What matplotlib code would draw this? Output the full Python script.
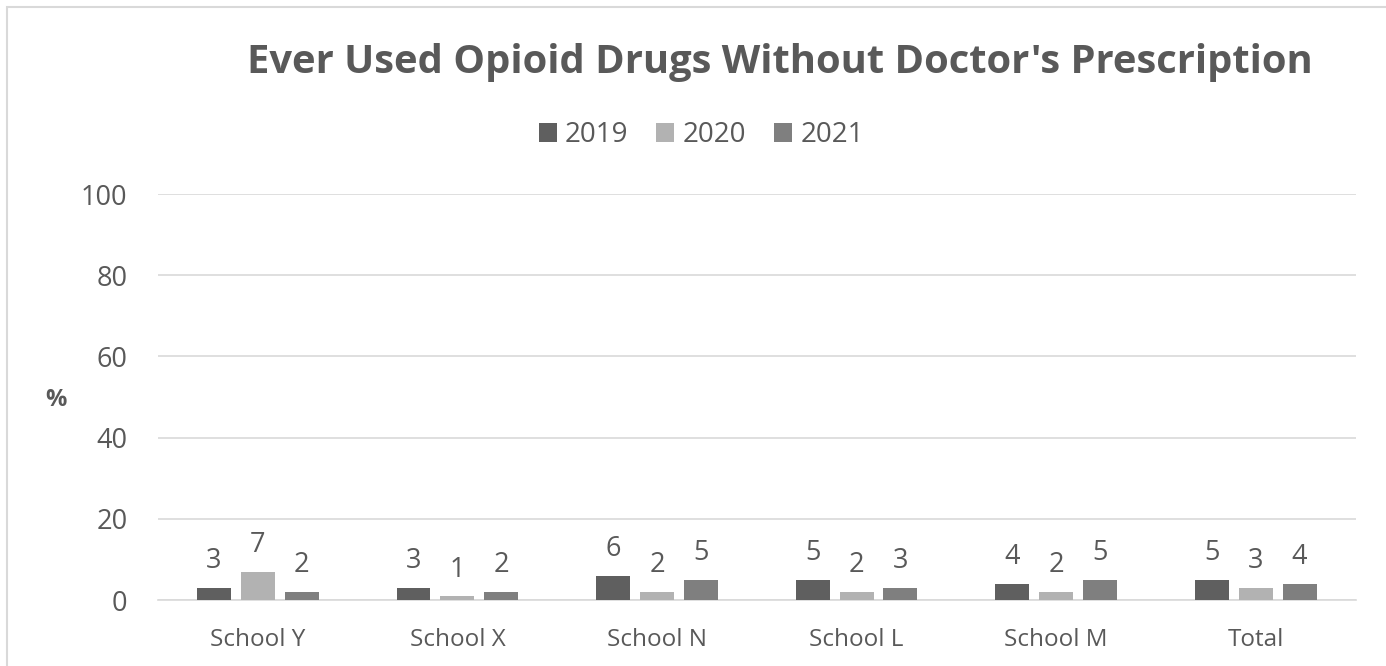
import matplotlib

matplotlib.use("Agg")
import matplotlib.pyplot as plt
import numpy as np

schools = ["School Y", "School X", "School N", "School L", "School M", "Total"]
years = ["2019", "2020", "2021"]
pct_2019 = [3, 3, 6, 5, 4, 5]
pct_2020 = [7, 1, 2, 2, 2, 3]
pct_2021 = [2, 2, 5, 3, 5, 4]
y_ticks = [0, 20, 40, 60, 80, 100]

series = [pct_2019, pct_2020, pct_2021]
colours = ["#5f5f5f", "#b2b2b2", "#7f7f7f"]
text_grey = "#595959"
font = "Open Sans"

fig = plt.figure(figsize=(13.86, 6.66), dpi=100)
fig.patch.set_facecolor("white")
# chart frame
fig.add_artist(plt.Rectangle((0.005, -0.01), 1.2, 1.0, transform=fig.transFigure,
                             fill=False, edgecolor="#d9d9d9", linewidth=1.5))

ax = fig.add_axes([0.114, 0.099, 0.864, 0.6096])
x = np.arange(len(schools))
width = 0.17
step = 0.22
for i, (values, colour, year) in enumerate(zip(series, colours, years)):
    pos = x + (i - 1) * step
    bars = ax.bar(pos, values, width, color=colour, label=year, zorder=3)
    for bar, v in zip(bars, values):
        ax.annotate(f"{v}", (bar.get_x() + bar.get_width() / 2, v),
                    xytext=(0, 9), textcoords="offset points",
                    ha="center", va="bottom", fontsize=19.5, color=text_grey,
                    family=font)

ax.set_xlim(-0.5, len(schools) - 0.5)
ax.set_ylim(0, 100)
ax.set_yticks(y_ticks)
ax.set_yticklabels([str(t) for t in y_ticks], fontsize=19.5, color=text_grey, family=font)
ax.set_xticks(x)
ax.set_xticklabels(schools, fontsize=17.5, color=text_grey, family=font)
ax.tick_params(axis="both", length=0)
ax.tick_params(axis="y", pad=22)
ax.tick_params(axis="x", pad=20)
ax.grid(axis="y", color="#d9d9d9", linewidth=1.2, zorder=0)
for side in ["top", "right", "left"]:
    ax.spines[side].set_visible(False)
ax.spines["bottom"].set_color("#d9d9d9")
ax.spines["bottom"].set_linewidth(1.2)

fig.text(0.04, 0.4, "%", fontsize=17, fontweight="bold", color=text_grey,
         family=font, ha="center", va="center")
fig.text(0.563, 0.906, "Ever Used Opioid Drugs Without Doctor's Prescription",
         fontsize=28.7, fontweight="bold", color=text_grey, family=font,
         ha="center", va="center")
fig.legend(loc="center", bbox_to_anchor=(0.506, 0.797), ncol=3, frameon=False,
           prop={"family": font, "size": 20}, labelcolor=text_grey,
           handlelength=0.65, handleheight=0.65, handletextpad=0.3, columnspacing=1.0)

fig.savefig("out.png", dpi=100)
